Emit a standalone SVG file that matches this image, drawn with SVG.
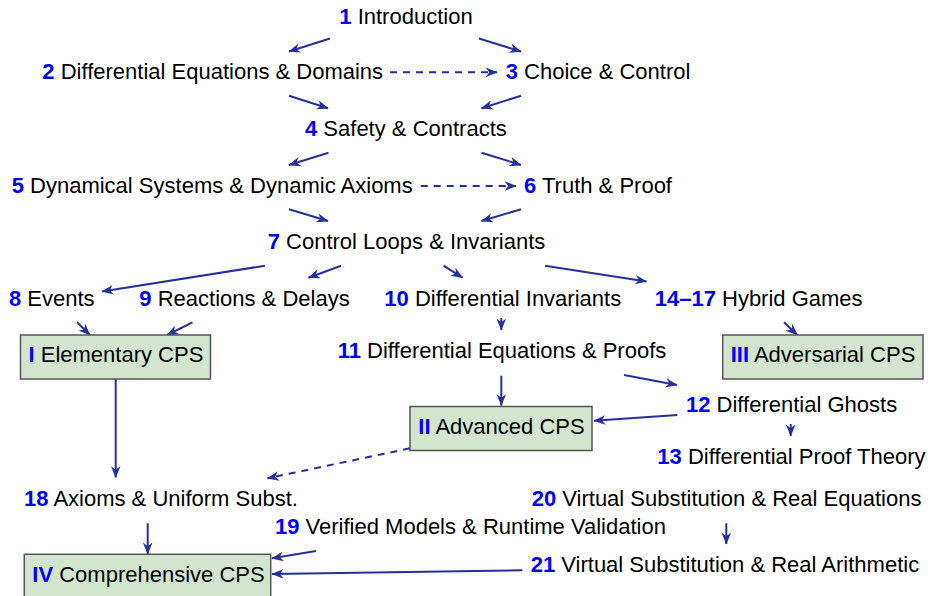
<svg xmlns="http://www.w3.org/2000/svg" width="928" height="596" viewBox="0 0 928 596">
<style>
text{font-family:"Liberation Sans",Arial,sans-serif;font-size:22px;fill:#000}
.n{font-weight:bold;fill:#0000ff}
.box{fill:#d3e5cf;stroke:#555;stroke-width:1.5}
.c{stroke:#25309a;stroke-width:2;fill:none;marker-end:url(#ah)}
.d{stroke-dasharray:7,6}
</style>
<defs>
<marker id="ah" viewBox="0 0 10 8" refX="9.5" refY="4" markerWidth="12" markerHeight="9.6" markerUnits="userSpaceOnUse" orient="auto">
<path d="M0,0 L10,4 L0,8 L3,4 Z" fill="#25309a"/>
</marker>
</defs>
<rect width="928" height="596" fill="#fff"/>
<g id="connectors">
<line class="c" x1="330" y1="38.5" x2="289" y2="51.5"/>
<line class="c" x1="479" y1="38.5" x2="521" y2="51.5"/>
<line class="c d" x1="390" y1="72.3" x2="497" y2="72.3"/>
<line class="c" x1="289" y1="95.7" x2="328" y2="108.3"/>
<line class="c" x1="521" y1="95.7" x2="481.5" y2="108.3"/>
<line class="c" x1="328.5" y1="152.7" x2="289" y2="165"/>
<line class="c" x1="481.5" y1="152.7" x2="521" y2="165"/>
<line class="c d" x1="420.7" y1="186" x2="516" y2="186"/>
<line class="c" x1="289" y1="209.3" x2="328" y2="221"/>
<line class="c" x1="521" y1="209.3" x2="481.5" y2="221"/>
<line class="c" x1="265" y1="265.7" x2="102" y2="291.5"/>
<line class="c" x1="341" y1="265.7" x2="308.5" y2="277.7"/>
<line class="c" x1="443.5" y1="265.7" x2="462.5" y2="277.7"/>
<line class="c" x1="545" y1="265.7" x2="646.5" y2="281.5"/>
<line class="c" x1="77" y1="322.3" x2="90" y2="335"/>
<line class="c" x1="192.5" y1="322.3" x2="167" y2="335"/>
<line class="c" x1="501.3" y1="318" x2="501.3" y2="330"/>
<line class="c" x1="784" y1="322.3" x2="797.3" y2="335"/>
<line class="c" x1="501.3" y1="375.7" x2="501.3" y2="405.5"/>
<line class="c" x1="624" y1="375" x2="677" y2="385"/>
<line class="c" x1="677.3" y1="415" x2="594" y2="420.7"/>
<line class="c" x1="790.7" y1="424" x2="790.7" y2="436"/>
<line class="c" x1="115.7" y1="379" x2="115.7" y2="477.5"/>
<line class="c d" x1="410" y1="448.3" x2="267.5" y2="478.3"/>
<line class="c" x1="147.7" y1="523.3" x2="147.7" y2="554"/>
<line class="c" x1="316" y1="551" x2="272" y2="558.3"/>
<line class="c" x1="522.3" y1="570.3" x2="272" y2="574"/>
<line class="c" x1="726.3" y1="523.3" x2="726.3" y2="544"/>
</g>
<g id="n1"><text x="339.3" y="23.5"><tspan class="n">1</tspan> Introduction</text></g>
<g id="n2"><text x="42.3" y="79.3"><tspan class="n">2</tspan> Differential Equations &amp; Domains</text></g>
<g id="n3"><text x="505.7" y="79.3"><tspan class="n">3</tspan> Choice &amp; Control</text></g>
<g id="n4"><text x="305" y="136"><tspan class="n">4</tspan> Safety &amp; Contracts</text></g>
<g id="n5"><text x="11.7" y="192.5"><tspan class="n">5</tspan> Dynamical Systems &amp; Dynamic Axioms</text></g>
<g id="n6"><text x="524" y="192.5"><tspan class="n">6</tspan> Truth &amp; Proof</text></g>
<g id="n7"><text x="267.7" y="249.2"><tspan class="n">7</tspan> Control Loops &amp; Invariants</text></g>
<g id="n8"><text x="9" y="306"><tspan class="n">8</tspan> Events</text></g>
<g id="n9"><text x="139.3" y="306"><tspan class="n">9</tspan> Reactions &amp; Delays</text></g>
<g id="n10"><text x="384.3" y="306"><tspan class="n">10</tspan> Differential Invariants</text></g>
<g id="n14"><text x="654.7" y="306"><tspan class="n">14–17</tspan> Hybrid Games</text></g>
<g id="nI"><rect class="box" x="20.5" y="335" width="190" height="44"/><text x="28.5" y="362.3"><tspan class="n">I</tspan> Elementary CPS</text></g>
<g id="nIII"><rect class="box" x="722.7" y="335" width="200.3" height="44"/><text x="730.7" y="362.3"><tspan class="n">III</tspan> Adversarial CPS</text></g>
<g id="n11"><text x="337.7" y="357.8"><tspan class="n">11</tspan> Differential Equations &amp; Proofs</text></g>
<g id="n12"><text x="686" y="411.7"><tspan class="n">12</tspan> Differential Ghosts</text></g>
<g id="nII"><rect class="box" x="410" y="406.5" width="182" height="44"/><text x="418.3" y="434.3"><tspan class="n">II</tspan> Advanced CPS</text></g>
<g id="n13"><text x="657.3" y="464"><tspan class="n">13</tspan> Differential Proof Theory</text></g>
<g id="n18"><text x="24" y="506"><tspan class="n">18</tspan> Axioms &amp; Uniform Subst.</text></g>
<g id="n20"><text x="531.7" y="506"><tspan class="n">20</tspan> Virtual Substitution &amp; Real Equations</text></g>
<g id="n19"><text x="275" y="534"><tspan class="n">19</tspan> Verified Models &amp; Runtime Validation</text></g>
<g id="n21"><text x="530.7" y="571.7"><tspan class="n">21</tspan> Virtual Substitution &amp; Real Arithmetic</text></g>
<g id="nIV"><rect class="box" x="24.3" y="554.3" width="246.4" height="50"/><text x="32.3" y="581.7"><tspan class="n">IV</tspan> Comprehensive CPS</text></g>
</svg>
